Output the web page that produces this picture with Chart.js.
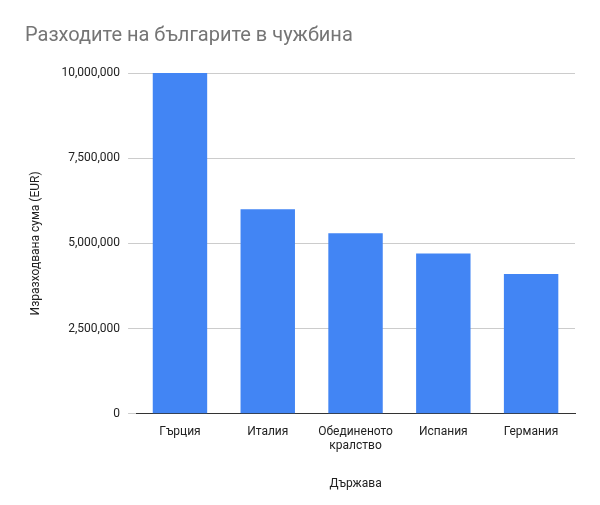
<!DOCTYPE html>
<html><head><meta charset="utf-8">
<script src="https://cdn.jsdelivr.net/npm/chart.js@4"></script>
<style>body{margin:0;background:#fff}#wrap{width:600px;height:505px}</style>
</head><body><div id="wrap"><canvas id="c"></canvas></div>
<script>
const countries = ['Гърция', 'Италия', ['Обединеното', 'кралство'], 'Испания', 'Германия'];
const spending = [10000000, 6000000, 5300000, 4700000, 4100000];

new Chart(document.getElementById('c'), {
  type: 'bar',
  data: {
    labels: countries,
    datasets: [{ data: spending, backgroundColor: '#4285f4', categoryPercentage: 0.62, barPercentage: 1 }]
  },
  options: {
    responsive: true, maintainAspectRatio: false, animation: false,
    layout: { padding: { left: 25, right: 25, top: 8, bottom: 10 } },
    plugins: {
      legend: { display: false },
      title: { display: true, text: 'Разходите на българите в чужбина', align: 'start', color: '#757575',
        font: { family: 'Roboto', size: 20, weight: 'normal' }, padding: { top: 16, bottom: 25 } }
    },
    scales: {
      x: {
        grid: { display: false },
        border: { color: '#333' },
        ticks: { color: '#222', font: { family: 'Roboto', size: 12 }, maxRotation: 0 },
        title: { display: true, text: 'Държава', color: '#222', font: { family: 'Roboto', size: 12 }, padding: { top: 20 } }
      },
      y: {
        min: 0, max: 10000000,
        ticks: { stepSize: 2500000, color: '#222', font: { family: 'Roboto', size: 12 }, padding: 8,
          callback: v => v.toLocaleString('en-US') },
        grid: { color: '#ccc' },
        border: { display: false },
        title: { display: true, text: 'Изразходвана сума (EUR)', color: '#222', font: { family: 'Roboto', size: 12 }, padding: { bottom: 10 } }
      }
    }
  }
});
</script></body></html>
